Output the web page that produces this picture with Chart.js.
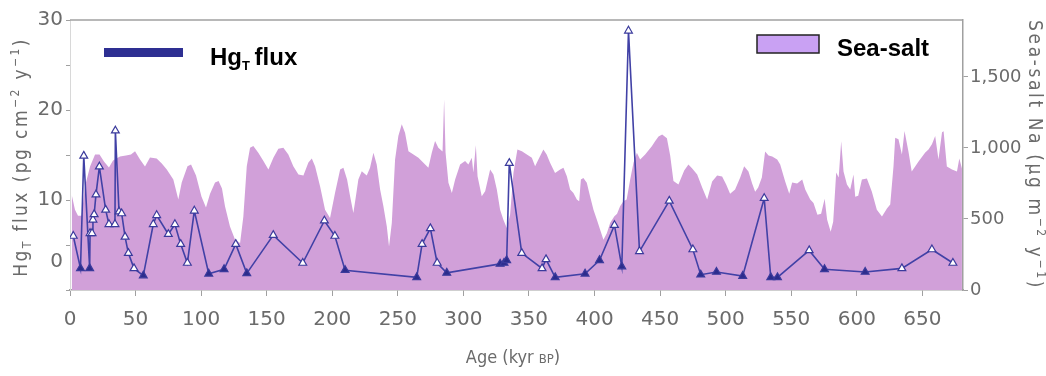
<!DOCTYPE html>
<html>
<head>
<meta charset="utf-8">
<script src="https://cdn.jsdelivr.net/npm/chart.js@4.4.1/dist/chart.umd.min.js"></script>
<style>
  html, body { margin: 0; padding: 0; background: #fff; }
  #wrap { width: 1046px; height: 376px; }
</style>
</head>
<body>
<div id="wrap"><canvas id="chart" width="1046" height="376"></canvas></div>
<script>
// Hg_T flux record (age kyr BP, pg cm-2 y-1); filled markers = below limit
const hgAge = [2.5, 8, 10.5, 15, 15.3, 16.8, 17.5, 18.4, 19.8, 22.4, 27.2, 29.7, 34.3, 34.6, 37.4, 39.4, 42, 44.5, 48.8, 55.9,
  63.5, 66.1, 75, 80, 84.4, 89.5, 94.8, 105.8, 117.5, 126.4, 134.8, 155, 177.5, 194, 202, 209.8,
  264.4, 268.5, 274.8, 280, 287.3, 328, 331, 333, 335, 344.5, 360, 363, 370, 392.8, 403.8, 415.2, 420.8, 425.9, 434.3,
  457, 475, 481, 493, 513, 529.4, 534.4, 539.5, 563.7, 575.4, 606.4, 634.4, 657.3, 673.3];
const hgFlux = [6.0, 2.4, 14.9, 2.4, 6.3, 6.3, 7.8, 8.4, 10.6, 13.7, 8.9, 7.3, 7.3, 17.7, 8.7, 8.5, 5.9, 4.1, 2.4, 1.6,
  7.3, 8.3, 6.2, 7.3, 5.1, 3.0, 8.8, 1.8, 2.3, 5.1, 1.85, 6.1, 3.0, 7.7, 6.0, 2.2,
  1.4, 5.1, 6.85, 3.0, 1.9, 2.9, 3.0, 3.3, 14.1, 4.1, 2.4, 3.4, 1.4, 1.8, 3.3, 7.2, 2.6, 28.8, 4.3,
  9.9, 4.5, 1.7, 2.0, 1.55, 10.2, 1.4, 1.4, 4.4, 2.3, 2.0, 2.4, 4.5, 3.0];
const hgBelowLimit = [0, 1, 0, 1, 0, 0, 0, 0, 0, 0, 0, 0, 0, 0, 0, 0, 0, 0, 0, 1,
  0, 0, 0, 0, 0, 0, 0, 1, 1, 0, 1, 0, 0, 0, 0, 1,
  1, 0, 0, 0, 1, 1, 1, 1, 0, 0, 0, 0, 1, 1, 1, 0, 1, 0, 0,
  0, 0, 1, 1, 1, 0, 1, 1, 0, 1, 1, 0, 0, 0];

// sea-salt Na flux (age kyr BP, ug m-2 y-1)
const saltAge = [1.3, 3.8, 6.1, 8.8, 11.4, 15.3, 19.1, 22.5, 25.9, 29.7, 32.8, 38.1, 42.7, 46.5, 49.6, 53.4, 57.2, 61.0, 66.1, 70.0,
  73.8, 78.8, 82.6, 85.2, 89.6, 92.3, 96.1, 100.3, 103.7, 106.8, 110.6, 113.3, 115.9, 118.2, 122.0, 125.9, 129.7, 132.2, 134.8, 137.3,
  139.8, 143.6, 147.5, 151.3, 155.1, 158.9, 162.7, 166.5, 170.3, 174.2, 178.0, 181.8, 184.4, 186.9, 190.7, 194.5, 198.3, 202.1, 206.0, 208.5,
  211.3, 213.6, 216.1, 218.2, 219.9, 222.5, 226.3, 228.8, 231.4, 233.9, 236.5, 239.0, 241.6, 243.3, 245.4, 247.9, 250.4, 253.0, 255.5, 258.1,
  261.9, 265.7, 269.5, 273.3, 275.9, 278.4, 280.9, 284.1, 285.3, 286.4, 288.6, 291.2, 293.7, 297.5, 301.3, 303.8, 306.4, 307.6, 309.5, 310.8,
  314.0, 316.6, 320.4, 322.9, 325.5, 328.0, 330.5, 333.1, 335.6, 338.2, 341.2, 344.6, 348.4, 352.2, 354.7, 357.2, 361.0, 363.5, 366.1, 369.9,
  373.8, 376.3, 378.9, 381.4, 383.9, 386.5, 388.3, 389.6, 391.5, 394.1, 396.6, 399.2, 401.8, 404.3, 406.8, 409.4, 411.9, 415.0, 417.2, 419.5,
  422.0, 424.5, 427.2, 429.7, 432.3, 434.8, 438.6, 443.7, 446.2, 448.8, 451.6, 455.2, 457.7, 460.2, 464.0, 468.4, 471.6, 474.5, 478.3, 482.1,
  485.9, 489.7, 493.5, 497.3, 500.4, 503.4, 507.2, 511.1, 514.1, 517.4, 520.2, 522.5, 524.8, 527.6, 530.1, 532.7, 535.5, 539.3, 541.6, 545.4,
  548.5, 550.7, 554.5, 558.4, 560.7, 564.5, 567.0, 570.0, 572.8, 575.5, 577.4, 580.1, 582.0, 584.3, 586.2, 588.1, 589.9, 592.5, 595.0, 597.5,
  598.8, 601.1, 603.9, 607.7, 611.5, 615.3, 619.2, 623.0, 625.5, 628.0, 629.3, 631.8, 634.4, 636.4, 639.4, 641.9, 644.5, 647.1, 652.2, 654.7,
  657.3, 659.8, 662.3, 665.0, 666.2, 668.7, 672.6, 676.4, 678.2, 680.2];
const saltNa = [671, 565, 523, 523, 728, 869, 954, 954, 905, 862, 912, 940, 947, 954, 977, 919, 869, 933, 926, 890,
  848, 777, 636, 756, 871, 883, 806, 657, 580, 678, 756, 767, 714, 589, 447, 353, 330, 518, 871, 1001,
  1013, 966, 907, 848, 931, 994, 1001, 954, 871, 813, 806, 897, 926, 871, 730, 565, 507, 683, 848, 860,
  777, 659, 542, 671, 777, 836, 806, 860, 966, 883, 707, 589, 447, 306, 471, 919, 1083, 1166, 1107, 977,
  954, 931, 895, 860, 966, 1048, 1001, 975, 1343, 968, 754, 683, 777, 883, 907, 883, 931, 827, 1018, 801,
  659, 695, 848, 813, 707, 565, 495, 436, 530, 827, 989, 977, 954, 931, 871, 919, 989, 954, 895, 824,
  848, 860, 801, 707, 683, 636, 624, 777, 789, 754, 659, 565, 495, 424, 353, 400, 471, 518, 537, 589,
  624, 636, 777, 895, 966, 919, 954, 1011, 1046, 1081, 1095, 1067, 947, 767, 742, 841, 883, 855, 813, 721,
  636, 763, 806, 799, 742, 678, 707, 791, 871, 834, 749, 692, 721, 791, 975, 947, 940, 919, 883, 763,
  678, 756, 749, 777, 707, 636, 613, 530, 537, 643, 495, 410, 481, 827, 791, 1046, 834, 742, 707, 813,
  657, 664, 777, 784, 692, 565, 518, 573, 601, 871, 1072, 1060, 954, 1119, 975, 834, 869, 905, 968, 989,
  1025, 1083, 919, 1110, 1117, 869, 848, 834, 926, 855];

const ageTicksStep = 50;
const leftTickValues = [0, 3.1, 5, 10, 15, 20, 25, 30];
const leftTickLabels = { 3.1: '0', 10: '10', 20: '20', 30: '30' };
const rightTickValues = [0, 500, 1000, 1500];

const AXIS_FAMILY = '"DejaVu Sans", sans-serif';
const AXIS_STYLE = 'normal condensed';
const GREY = '#6b6b6b';
const LINE_GREY = '#a0a0a0';

const hgPoints = hgAge.map((a, i) => ({ x: a, y: hgFlux[i] }));
const saltPoints = saltAge.map((a, i) => ({ x: a, y: saltNa[i] }));

function drawRich(ctx, parts, x, y, angle, spacing) {
  ctx.save();
  ctx.translate(x, y);
  ctx.rotate(angle);
  ctx.textBaseline = 'alphabetic';
  ctx.textAlign = 'left';
  if ('letterSpacing' in ctx) ctx.letterSpacing = (spacing || 0) + 'px';
  let total = 0;
  parts.forEach(p => {
    ctx.font = p.font;
    p.w = ctx.measureText(p.t).width;
    total += p.w;
  });
  let cx = -total / 2;
  parts.forEach(p => {
    ctx.font = p.font;
    ctx.fillStyle = p.color;
    ctx.fillText(p.t, cx, p.dy || 0);
    cx += p.w;
  });
  ctx.restore();
}

const decorations = {
  id: 'decorations',
  afterDraw(chart) {
    const ctx = chart.ctx;
    const area = chart.chartArea;

    // frame top
    ctx.save();
    ctx.strokeStyle = LINE_GREY;
    ctx.lineWidth = 1.5;
    ctx.beginPath();
    ctx.moveTo(area.left, area.top);
    ctx.lineTo(area.right, area.top);
    ctx.stroke();
    ctx.restore();

    // legend: Hg_T flux
    ctx.save();
    ctx.fillStyle = '#2e2f92';
    ctx.fillRect(104, 48, 79, 9);
    ctx.restore();
    const bold = sz => 'bold ' + sz + 'px "Liberation Sans", Arial, sans-serif';
    ctx.save();
    ctx.fillStyle = '#000';
    ctx.textBaseline = 'alphabetic';
    ctx.font = bold(24);
    ctx.fillText('Hg', 210, 65);
    let w = ctx.measureText('Hg').width;
    ctx.font = 'bold 13px "Liberation Sans", Arial, sans-serif';
    ctx.fillText('T', 210 + w, 70);
    let w2 = ctx.measureText('T').width;
    ctx.font = bold(24);
    ctx.fillText(' flux', 210 + w + w2 - 2, 65);
    ctx.restore();

    // legend: Sea-salt
    ctx.save();
    ctx.fillStyle = '#c9a1f3';
    ctx.strokeStyle = '#222';
    ctx.lineWidth = 1.5;
    ctx.fillRect(757, 35, 62, 18);
    ctx.strokeRect(757, 35, 62, 18);
    ctx.fillStyle = '#000';
    ctx.font = bold(24);
    ctx.textBaseline = 'alphabetic';
    ctx.fillText('Sea-salt', 837, 56);
    ctx.restore();

    // axis titles
    const f = sz => AXIS_STYLE + ' ' + sz + 'px ' + AXIS_FAMILY;
    drawRich(ctx, [
      { t: 'Hg', font: f(19), color: GREY },
      { t: 'T', font: f(12), color: GREY, dy: 4 },
      { t: ' flux (pg cm', font: f(19), color: GREY },
      { t: '\u22122', font: f(12), color: GREY, dy: -8 },
      { t: ' y', font: f(19), color: GREY },
      { t: '\u22121', font: f(12), color: GREY, dy: -8 },
      { t: ')', font: f(19), color: GREY }
    ], 27, 157, -Math.PI / 2, 2.4);

    drawRich(ctx, [
      { t: 'Sea-salt Na (\u03bcg m', font: f(19), color: GREY },
      { t: '\u22122', font: f(12), color: GREY, dy: -8 },
      { t: ' y', font: f(19), color: GREY },
      { t: '\u22121', font: f(12), color: GREY, dy: -8 },
      { t: ')', font: f(19), color: GREY }
    ], 1029, 155, Math.PI / 2, 2.6);

    drawRich(ctx, [
      { t: 'Age (kyr ', font: f(18), color: GREY },
      { t: 'BP', font: f(13), color: GREY },
      { t: ')', font: f(18), color: GREY }
    ], 513, 363, 0, 0);
  }
};

new Chart(document.getElementById('chart'), {
  type: 'line',
  data: {
    datasets: [
      {
        label: 'HgT flux',
        data: hgPoints,
        yAxisID: 'y',
        order: 0,
        borderColor: '#4141a6',
        borderWidth: 1.6,
        tension: 0,
        fill: false,
        pointStyle: 'triangle',
        pointRadius: 4.5,
        pointBorderWidth: 1.2,
        pointBorderColor: '#3a3a9c',
        pointBackgroundColor: hgBelowLimit.map(b => b ? '#2c2c8c' : '#ffffff')
      },
      {
        label: 'Sea-salt',
        data: saltPoints,
        yAxisID: 'y2',
        order: 1,
        borderWidth: 0,
        borderColor: 'rgba(0,0,0,0)',
        backgroundColor: 'rgb(209,160,217)',
        fill: 'origin',
        pointRadius: 0,
        tension: 0
      }
    ]
  },
  options: {
    responsive: false,
    animation: false,
    layout: { padding: { top: 20, left: 0, right: 0, bottom: 0 } },
    plugins: {
      legend: { display: false },
      tooltip: { enabled: false }
    },
    scales: {
      x: {
        type: 'linear',
        position: 'bottom',
        min: 0,
        max: 681,
        afterFit: scale => { scale.height = 86; },
        ticks: {
          stepSize: ageTicksStep,
          includeBounds: false,
          color: GREY,
          font: { family: AXIS_FAMILY, style: AXIS_STYLE, size: 20 },
          padding: 12,
          maxRotation: 0
        },
        grid: { drawOnChartArea: false, tickLength: 6, color: LINE_GREY },
        border: { display: true, color: LINE_GREY, width: 1.5 }
      },
      y: {
        position: 'left',
        min: 0,
        max: 30,
        afterFit: scale => { scale.width = 70; },
        afterBuildTicks: scale => { scale.ticks = leftTickValues.map(v => ({ value: v })); },
        ticks: {
          color: GREY,
          font: { family: AXIS_FAMILY, style: AXIS_STYLE, size: 20 },
          padding: 3,
          callback: v => leftTickLabels[v] || ''
        },
        grid: {
          drawOnChartArea: false,
          tickLength: 4,
          color: ctx => (ctx.tick && ctx.tick.value === 3.1) ? 'rgba(0,0,0,0)' : LINE_GREY
        },
        border: { display: true, color: '#d8d8d8' }
      },
      y2: {
        position: 'right',
        min: 0,
        max: 1900,
        afterFit: scale => { scale.width = 83; },
        afterBuildTicks: scale => { scale.ticks = rightTickValues.map(v => ({ value: v })); },
        ticks: {
          color: GREY,
          font: { family: AXIS_FAMILY, style: AXIS_STYLE, size: 18 },
          padding: 2,
          callback: v => v.toLocaleString('en-US')
        },
        grid: { drawOnChartArea: false, tickLength: 5, color: LINE_GREY },
        border: { display: true, color: LINE_GREY, width: 1.5 }
      }
    }
  },
  plugins: [decorations]
});
</script>
</body>
</html>
